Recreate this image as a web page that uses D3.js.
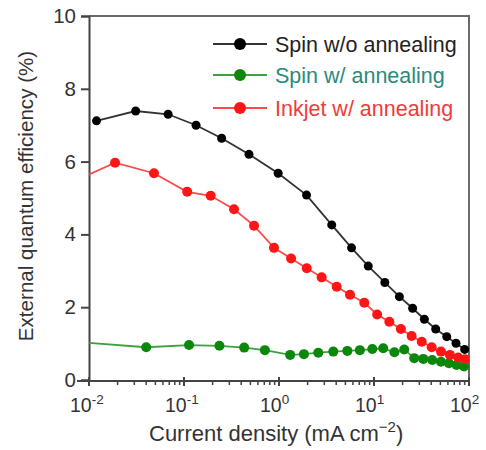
<!DOCTYPE html>
<html>
<head>
<meta charset="utf-8">
<script src="https://cdn.jsdelivr.net/npm/d3@7"></script>
<style>
  body { margin: 0; background: #fff; }
  text { font-family: "Liberation Sans", Arial, Helvetica, sans-serif; }
</style>
</head>
<body>
<script>
// current density (mA cm^-2) and EQE (%)
const spinNoAnnealX = [0.012, 0.031, 0.068, 0.134, 0.249, 0.483, 0.98, 1.95, 3.59, 5.8, 8.7, 13, 18.5, 25.5, 33.9, 44.6, 58.3, 73, 90];
const spinNoAnnealY = [7.12, 7.39, 7.30, 7.00, 6.64, 6.20, 5.68, 5.08, 4.26, 3.63, 3.13, 2.68, 2.29, 1.97, 1.67, 1.40, 1.19, 1.01, 0.84];

const spinAnnealX = [0.0085, 0.040, 0.113, 0.236, 0.43, 0.71, 1.31, 1.83, 2.59, 3.73, 5.24, 7.1, 9.6, 12.5, 16.4, 20.8, 26.5, 33, 41, 50.7, 61.5, 74, 88.5];
const spinAnnealY = [1.035, 0.90, 0.96, 0.94, 0.89, 0.82, 0.69, 0.71, 0.75, 0.78, 0.80, 0.82, 0.85, 0.87, 0.76, 0.84, 0.60, 0.58, 0.55, 0.50, 0.46, 0.41, 0.37];

const inkjetX = [0.0085, 0.0188, 0.0483, 0.108, 0.191, 0.336, 0.546, 0.885, 1.34, 1.96, 2.81, 4.05, 5.59, 7.9, 10.8, 14.5, 19.2, 24.9, 31.8, 40.5, 50.7, 63, 77, 91];
const inkjetY = [5.56, 5.97, 5.68, 5.17, 5.06, 4.69, 4.24, 3.63, 3.34, 3.07, 2.82, 2.56, 2.34, 2.12, 1.80, 1.60, 1.40, 1.21, 1.05, 0.90, 0.78, 0.69, 0.62, 0.57];

const seriesNames = ["Spin w/o annealing", "Spin w/ annealing", "Inkjet w/ annealing"];
const xTicks = [0.01, 0.1, 1, 10, 100];
const xTickExp = ["-2", "-1", "0", "1", "2"];
const yTicks = [0, 2, 4, 6, 8, 10];

const styles = [
    {line: "#333", dot: "#000", text: "#222", r: 4.5},
    {line: "#3f9f3f", dot: "#0b870b", text: "#2a8a7c", r: 5},
    {line: "#ff4a4a", dot: "#ff1515", text: "#f23a3a", r: 5}
];

const series = [
    spinNoAnnealX.map((d, i) => ({x: d, y: spinNoAnnealY[i]})),
    spinAnnealX.map((d, i) => ({x: d, y: spinAnnealY[i]})),
    inkjetX.map((d, i) => ({x: d, y: inkjetY[i]}))
];

const width = 486, height = 450;
const plotLeft = 89, plotRight = 469, plotTop = 16, plotBottom = 380;

const svg = d3.select("body").append("svg")
    .attr("width", width)
    .attr("height", height);

const x = d3.scaleLog().domain([0.01, 100]).range([plotLeft, plotRight]);
const y = d3.scaleLinear().domain([0, 10]).range([plotBottom, plotTop]);

svg.append("clipPath").attr("id", "plot")
    .append("rect")
    .attr("x", plotLeft).attr("y", plotTop - 2)
    .attr("width", plotRight - plotLeft).attr("height", plotBottom - plotTop + 2);

// frame (top and right)
svg.append("path")
    .attr("d", `M${plotLeft},${plotTop}H${plotRight}V${plotBottom + 1}`)
    .attr("fill", "none")
    .attr("stroke", "#6a6a6a")
    .attr("stroke-width", 2);

// y axis
const yAxis = svg.append("g")
    .attr("transform", `translate(${plotLeft},0)`)
    .call(d3.axisLeft(y).tickValues(yTicks).tickSize(8).tickPadding(5).tickFormat(d3.format("d")));
yAxis.select(".domain").attr("stroke", "#444").attr("stroke-width", 2);
yAxis.selectAll(".tick line").attr("stroke", "#444").attr("stroke-width", 2);
yAxis.selectAll(".tick text")
    .attr("font-size", 20.5)
    .attr("fill", "#333");

// x axis: minor ticks
const minor = [];
for (let e = -2; e < 2; e++) {
    for (let m = 2; m <= 9; m++) minor.push(m * Math.pow(10, e));
}
const xAxisG = svg.append("g").attr("transform", `translate(0,${plotBottom + 1})`);
xAxisG.append("line")
    .attr("x1", plotLeft - 12).attr("x2", plotRight)
    .attr("stroke", "#444").attr("stroke-width", 2);
xAxisG.selectAll(".minor")
    .data(minor)
    .enter()
    .append("line")
    .attr("class", "minor")
    .attr("x1", d => x(d)).attr("x2", d => x(d))
    .attr("y1", 0).attr("y2", 4)
    .attr("stroke", "#444").attr("stroke-width", 1.5);
xAxisG.selectAll(".major")
    .data(xTicks)
    .enter()
    .append("line")
    .attr("class", "major")
    .attr("x1", d => x(d)).attr("x2", d => x(d))
    .attr("y1", -4).attr("y2", 5)
    .attr("stroke", "#444").attr("stroke-width", 2);

const xLabels = xAxisG.selectAll(".xlab")
    .data(xTicks)
    .enter()
    .append("text")
    .attr("class", "xlab")
    .attr("x", d => x(d) - 19)
    .attr("y", 31)
    .attr("fill", "#333")
    .attr("font-size", 19.5);
xLabels.append("tspan").text("10");
xLabels.append("tspan")
    .attr("dy", -8)
    .attr("font-size", 13.5)
    .text((d, i) => xTickExp[i]);

// axis titles
const xTitle = svg.append("text")
    .attr("x", 149)
    .attr("y", 441)
    .attr("font-size", 22)
    .attr("fill", "#333");
xTitle.append("tspan").text("Current density (mA cm");
xTitle.append("tspan").attr("dy", -9).attr("font-size", 15).text("\u22122");
xTitle.append("tspan").attr("dy", 9).text(")");

svg.append("text")
    .attr("transform", `translate(33,196) rotate(-90)`)
    .attr("text-anchor", "middle")
    .attr("font-size", 20.6)
    .attr("fill", "#333")
    .text("External quantum efficiency (%)");

// data
const line = d3.line().x(d => x(d.x)).y(d => y(d.y));
const plot = svg.append("g").attr("clip-path", "url(#plot)");

const groups = plot.selectAll(".series")
    .data(series)
    .enter()
    .append("g")
    .attr("class", "series");

groups.append("path")
    .attr("d", d => line(d))
    .attr("fill", "none")
    .attr("stroke", (d, i) => styles[i].line)
    .attr("stroke-width", 1.8);

groups.each(function(d, i) {
    d3.select(this).selectAll("circle")
        .data(d)
        .enter()
        .append("circle")
        .attr("cx", p => x(p.x))
        .attr("cy", p => y(p.y))
        .attr("r", styles[i].r)
        .attr("fill", styles[i].dot);
});

// legend
const legend = svg.append("g");
const legendY = [44, 75, 108];
seriesNames.forEach((name, i) => {
    const g = legend.append("g").attr("transform", `translate(0,${legendY[i]})`);
    g.append("line")
        .attr("x1", 213).attr("x2", 267)
        .attr("stroke", styles[i].line).attr("stroke-width", 2);
    g.append("circle")
        .attr("cx", 240).attr("r", 6)
        .attr("fill", styles[i].dot);
    g.append("text")
        .attr("x", 275).attr("y", 7.5)
        .attr("font-size", 21.5)
        .attr("fill", styles[i].text)
        .text(name);
});
</script>
</body>
</html>
